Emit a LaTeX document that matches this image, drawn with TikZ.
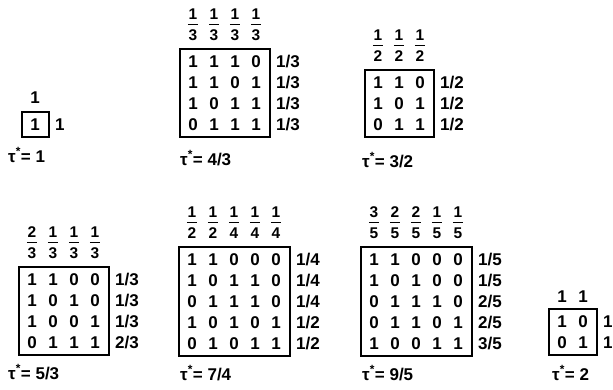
\documentclass[tikz,border=0pt]{standalone}
\usepackage{fontspec}
\setmainfont{Liberation Sans}
\tikzset{
  dig/.style={font=\fontsize{17}{17}\selectfont\bfseries, inner sep=0pt},
  rlab/.style={dig, anchor=west},
  fracd/.style={font=\fontsize{15.5}{15.5}\selectfont\bfseries, inner sep=0pt},
  fbar/.style={line width=1.4pt},
  mbox/.style={draw, line width=2.2pt},
  taulab/.style={anchor=west, inner sep=0pt, font=\fontsize{17}{17}\selectfont\bfseries},
}
% #1 name, #2 x0, #3 y0, #4 ncols, #5 nrows, #6 rows, #7 row labels
\newcommand\Mat[7]{%
  \pgfmathsetmacro\mL{#2-13}%
  \pgfmathsetmacro\mT{#3-13}%
  \pgfmathsetmacro\mR{#2+21*(#4-1)+14}%
  \pgfmathsetmacro\mB{#3+21*(#5-1)+12}%
  \draw[mbox] (\mL,\mT) rectangle (\mR,\mB);
  \foreach \row [count=\i from 0] in {#6} {
    \foreach \v [count=\j from 0] in \row {
      \node[dig] (#1-\i-\j) at ({#2+21*\j},{#3+21*\i}) {\v};
    }
  }
  \foreach \t [count=\i from 0] in {#7} {
    \node[rlab] (#1-r\i) at ({\mR+6},{#3+21*\i}) {\t};
  }
}
% #1 name, #2 x0, #3 y0, #4 list n/d
\newcommand\Fracs[4]{%
  \foreach \n/\d [count=\j from 0] in {#4} {
    \node[fracd] (#1-n\j) at ({#2+21*\j},{#3-48}) {\n};
    \node[fracd] (#1-d\j) at ({#2+21*\j},{#3-27}) {\d};
    \draw[fbar] ([xshift=-0.5pt]#1-n\j.south west |- 0,{#3-37.5}) -- ([xshift=0.5pt]#1-n\j.south east |- 0,{#3-37.5});
  }
}
\begin{document}
\begin{tikzpicture}[x=1pt,y=-1pt]
\useasboundingbox (0,0) rectangle (613,389);

% tau* = 1
\Mat{a}{35}{125}{1}{1}{{1}}{1}
\node[dig] (a-c0) at (35,98) {1};
\node[taulab] (ta) at (8,155) {τ\textsuperscript{*}= 1};

% tau* = 4/3
\Mat{b}{193}{62}{4}{4}{{1,1,1,0},{1,1,0,1},{1,0,1,1},{0,1,1,1}}{1/3,1/3,1/3,1/3}
\Fracs{b}{193}{62}{1/3,1/3,1/3,1/3}
\node[taulab] (tb) at (180,158) {τ\textsuperscript{*}= 4/3};

% tau* = 3/2
\Mat{c}{378}{83}{3}{3}{{1,1,0},{1,0,1},{0,1,1}}{1/2,1/2,1/2}
\Fracs{c}{378}{83}{1/2,1/2,1/2}
\node[taulab] (tc) at (362,160) {τ\textsuperscript{*}= 3/2};

% tau* = 5/3
\Mat{d}{32}{280}{4}{4}{{1,1,0,0},{1,0,1,0},{1,0,0,1},{0,1,1,1}}{1/3,1/3,1/3,2/3}
\Fracs{d}{32}{280}{2/3,1/3,1/3,1/3}
\node[taulab] (td) at (8,372) {τ\textsuperscript{*}= 5/3};

% tau* = 7/4
\Mat{e}{192}{260}{5}{5}{{1,1,0,0,0},{1,0,1,1,0},{0,1,1,1,0},{1,0,1,0,1},{0,1,0,1,1}}{1/4,1/4,1/4,1/2,1/2}
\Fracs{e}{192}{260}{1/2,1/2,1/4,1/4,1/4}
\node[taulab] (te) at (180,373) {τ\textsuperscript{*}= 7/4};

% tau* = 9/5
\Mat{f}{374}{260}{5}{5}{{1,1,0,0,0},{1,0,1,0,0},{0,1,1,1,0},{0,1,1,0,1},{1,0,0,1,1}}{1/5,1/5,2/5,2/5,3/5}
\Fracs{f}{374}{260}{3/5,2/5,2/5,1/5,1/5}
\node[taulab] (tf) at (362,373) {τ\textsuperscript{*}= 9/5};

% tau* = 2
\Mat{g}{562}{322}{2}{2}{{1,0},{0,1}}{1,1}
\node[dig] (g-c0) at (562,297) {1};
\node[dig] (g-c1) at (583,297) {1};
\node[taulab] (tg) at (552,373) {τ\textsuperscript{*}= 2};
\end{tikzpicture}
\end{document}
